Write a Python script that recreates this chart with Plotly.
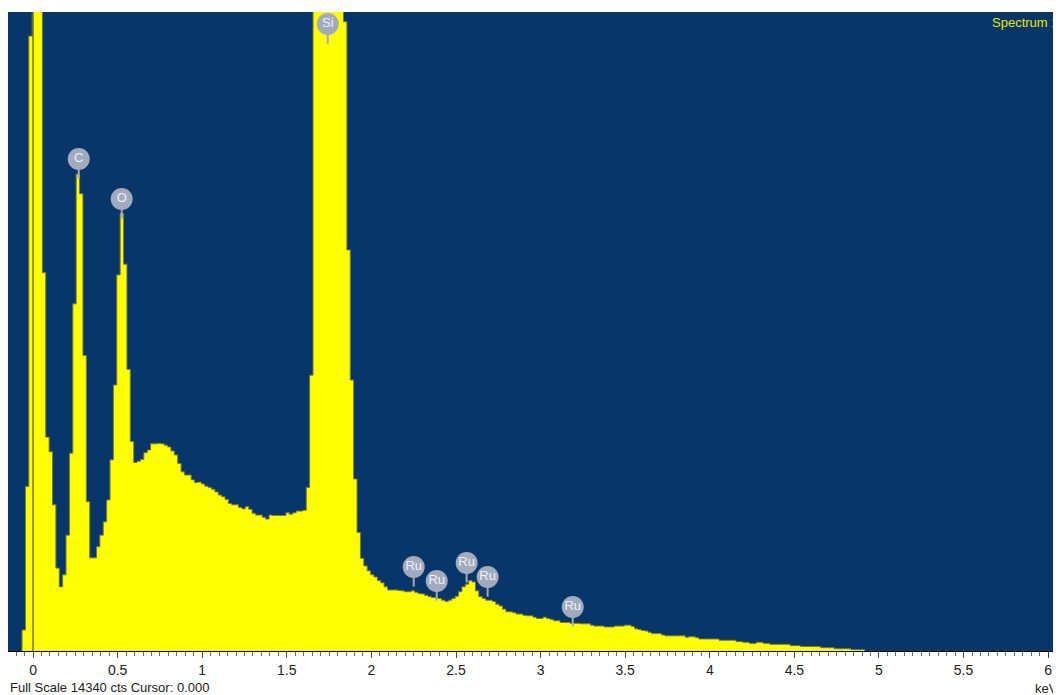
import numpy as np
import plotly.graph_objects as go

# ---- data (counts per 0.02 keV channel, first channel at -0.075 keV) ----
counts = [
    0, 470, 3690, 13800, 26000, 41000, 18000, 8490, 4800, 4470,
    3280, 1860, 1440, 1710, 2600, 4440, 7790, 10700, 10260, 6630,
    3350, 2090, 2090, 2340, 2600, 2900, 3390, 4290, 5970, 8440,
    9820, 8680, 6320, 4700, 4230, 4260, 4300, 4450, 4510, 4650,
    4650, 4660, 4650, 4620, 4580, 4490, 4400, 4210, 4020, 3950,
    3950, 3840, 3780, 3790, 3750, 3700, 3670, 3630, 3570, 3500,
    3460, 3400, 3310, 3280, 3280, 3220, 3190, 3240, 3180, 3090,
    3050, 3050, 3000, 2960, 3050, 3040, 3040, 3040, 3040, 3100,
    3070, 3100, 3140, 3140, 3160, 3670, 6190, 16000, 21000, 26000,
    30000, 32000, 31000, 27000, 22000, 17000, 14120, 9000, 6080, 3860,
    2660, 2080, 1910, 1800, 1710, 1660, 1580, 1530, 1440, 1370,
    1370, 1370, 1360, 1350, 1330, 1330, 1350, 1320, 1290, 1280,
    1250, 1220, 1200, 1190, 1180, 1140, 1110, 1140, 1180, 1230,
    1330, 1440, 1500, 1580, 1550, 1350, 1220, 1180, 1140, 1140,
    1110, 1050, 1010, 940, 880, 880, 860, 830, 830, 800,
    790, 790, 760, 730, 730, 760, 730, 710, 680, 680,
    640, 640, 640, 620, 620, 620, 610, 610, 610, 580,
    560, 560, 560, 540, 540, 540, 560, 560, 560, 580,
    580, 550, 500, 480, 460, 450, 420, 390, 390, 390,
    360, 340, 340, 340, 340, 340, 340, 310, 320, 320,
    300, 270, 270, 270, 270, 270, 270, 240, 240, 240,
    240, 240, 210, 210, 195, 195, 170, 170, 195, 195,
    170, 170, 150, 150, 150, 150, 150, 150, 120, 120,
    120, 100, 100, 100, 100, 100, 100, 75, 75, 75,
    75, 50, 50, 50, 50, 50, 30, 30, 30, 30,
    0,
]
channel_width = 0.02
first_channel = -4
energies = np.round((np.arange(len(counts)) + first_channel) * channel_width + 0.005, 3)

full_scale = 14340
x_range = [-0.148, 6.076]

label_names = ["C", "O", "Si", "Ru", "Ru", "Ru", "Ru", "Ru"]
label_kev = [0.270, 0.524, 1.742, 2.250, 2.386, 2.563, 2.687, 3.190]
label_cts = [11040, 10143, 14070, 1885, 1571, 1975, 1661, 987]

tick_vals = [0, 0.5, 1, 1.5, 2, 2.5, 3, 3.5, 4, 4.5, 5, 5.5, 6]
tick_text = ["0", "0.5", "1", "1.5", "2", "2.5", "3", "3.5", "4", "4.5", "5", "5.5", "6"]

# ---- figure ----
# the page body adds an 8 px margin; the figure is sized so the plot lands
# at x 8..1061, y 12..651 of the window
W, H = 1053, 687
m_l, m_r, m_t, m_b = 0, 0, 4, 44
plot_h = H - m_t - m_b
plot_w = W - m_l - m_r
cts_per_px = full_scale / plot_h

BLUE = "#083668"
YELLOW = "#FFFF00"
LABEL_GRAY = "#A2ABBD"
FONT = "Liberation Sans, Arial, sans-serif"

fig = go.Figure()

fig.add_trace(go.Scatter(
    x=energies, y=counts,
    mode="lines", line=dict(shape="hvh", width=1, color="#7a7a40"),
    fill="tozeroy", fillcolor=YELLOW,
    hoverinfo="x+y", showlegend=False,
))

# stems under the element labels
fig.add_trace(go.Scatter(
    x=label_kev, y=[c - 14 * cts_per_px for c in label_cts],
    mode="markers",
    marker=dict(symbol="line-ns", size=8, line=dict(width=2, color=LABEL_GRAY)),
    hoverinfo="skip", showlegend=False,
))
# element label bubbles
fig.add_trace(go.Scatter(
    x=label_kev, y=label_cts,
    mode="markers+text",
    marker=dict(symbol="circle", size=22, color=LABEL_GRAY, line=dict(width=0)),
    text=label_names, textposition="middle center",
    textfont=dict(family=FONT, size=13, color="#EEF1F6"),
    hoverinfo="text", showlegend=False,
))

# cursor line at 0.000 keV
fig.add_shape(type="line", xref="x", yref="paper", x0=0, x1=0, y0=0, y1=1,
              line=dict(color="#333333", width=1), layer="above")

fig.add_annotation(text="Spectrum 1", xref="paper", yref="paper",
                   x=1, y=(plot_h - 10) / plot_h, xanchor="right", yanchor="middle",
                   xshift=-1, showarrow=False,
                   font=dict(family=FONT, size=13, color="#E6E600"))
fig.add_annotation(text="Full Scale 14340 cts Cursor: 0.000", xref="paper", yref="paper",
                   x=0, y=-36 / plot_h, xanchor="left", yanchor="middle",
                   showarrow=False, font=dict(family=FONT, size=13, color="#222222"))
fig.add_annotation(text="keV", xref="paper", yref="paper",
                   x=1, y=-37 / plot_h, xanchor="right", yanchor="middle",
                   xshift=-1, showarrow=False,
                   font=dict(family=FONT, size=13, color="#222222"))

fig.update_layout(
    width=W, height=H,
    margin=dict(l=m_l, r=m_r, t=m_t, b=m_b, pad=0),
    paper_bgcolor="white", plot_bgcolor=BLUE,
    xaxis=dict(range=x_range, tickvals=tick_vals, ticktext=tick_text,
               showgrid=False, zeroline=False, showline=True, linecolor="#000000",
               linewidth=1, ticks="outside", ticklen=6, tickcolor="#444444",
               tickfont=dict(family=FONT, size=14, color="#222222"),
               minor=dict(dtick=0.05, tick0=0, ticks="outside", ticklen=4,
                          tickcolor="#666666", showgrid=False)),
    yaxis=dict(range=[0, full_scale], showgrid=False, zeroline=False,
               showticklabels=False, showline=False, ticks=""),
    font=dict(family=FONT),
)

fig.write_html("out.html")
